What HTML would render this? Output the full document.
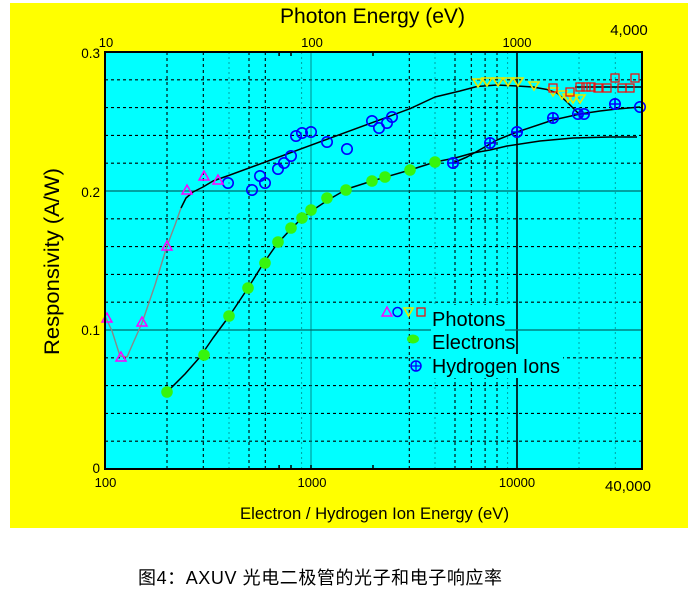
<!DOCTYPE html>
<html><head><meta charset="utf-8"><style>
html,body{margin:0;padding:0;background:#fff;}
svg{display:block;}
text{font-family:"Liberation Sans","Noto Sans CJK SC",sans-serif;fill:#000;}
</style></head><body>
<svg width="697" height="589" viewBox="0 0 697 589" xmlns="http://www.w3.org/2000/svg">
<rect x="0" y="0" width="697" height="589" fill="#fff"/>
<rect x="10" y="3" width="678" height="525" fill="#ffff00"/>
<rect x="105" y="52" width="537" height="417" fill="#00ffff"/>

<!-- grid -->
<g stroke="#000" stroke-width="1.1" stroke-dasharray="3,3" fill="none">
<path d="M105 79.8H642M105 107.6H642M105 135.4H642M105 163.2H642M105 218.8H642M105 246.6H642M105 274.4H642M105 302.2H642M105 357.8H642M105 385.6H642M105 413.4H642M105 441.2H642"/>
<path d="M167 52V469M203.3 52V469M249 52V469M265.3 52V469M409.3 52V469M455 52V469M471.3 52V469M485.1 52V469M497 52V469"/>
</g>
<g stroke="#00a0a0" stroke-width="1" stroke-dasharray="2,3" fill="none">
<path d="M229 52V469M301.6 52V469M435 52V469M507.6 52V469M579 52V469M615.3 52V469"/>
</g>
<!-- legend box hiding grid -->
<rect x="431" y="305" width="132" height="73" fill="#00ffff"/>
<g fill="none">
<path d="M311 52V469" stroke="#008c8c" stroke-width="1"/>
<path d="M517 52V354M517 378V469" stroke="#000" stroke-width="1.6"/>
<path d="M105 191H642" stroke="#006a6a" stroke-width="1.3"/>
<path d="M105 330H431M505 330H642" stroke="#006a6a" stroke-width="1.3"/>
</g>
<!-- ticks -->
<g stroke="#000" stroke-width="1.5">
<path d="M279.1 52V56M291 52V56M373 52V56M279.1 469V465M291 469V465M373 469V465M311 469V465"/>
</g>

<!-- curves -->
<g fill="none" stroke-linejoin="round">
<polyline stroke="#888" stroke-width="1.4" points="105,316 112,331 120,356 127,357 134,341 142,323 155,285 167,246 175,225 181,208"/>
<polyline stroke="#000" stroke-width="1.5" points="181,208 186,198 193,192 203,187 213,181 230,175 410,108.7 435,97 460,91 477,86.5 497,85 517,86 533,87 547,89.5 557,93 567,102 577,112 580,115"/>
<polyline stroke="#000" stroke-width="1.5" points="575,87 642,87"/>
<polyline stroke="#000" stroke-width="1.5" points="167,392 185,374 200,357 213,338 230,315 248,288 263,264 277,244 290,230 302,218 313,210 328,200 347,189 372,181 410,170 435,162 455,158 473,153 490,150 507,146 540,141 573,138 610,137 637,137"/>
<polyline stroke="#000" stroke-width="1.5" points="453,163 467,157 483,148 497,140 517,132 553,120 580,114 600,111 617,109 640,107"/>
</g>

<!-- electrons -->
<g fill="#36f50e">
<circle cx="167" cy="392" r="5.8"/><circle cx="204" cy="355" r="5.8"/><circle cx="229" cy="316" r="5.8"/>
<circle cx="248" cy="288" r="5.8"/><circle cx="265" cy="263" r="5.8"/><circle cx="278" cy="242" r="5.8"/>
<circle cx="291" cy="228" r="5.8"/><circle cx="302" cy="218" r="5.8"/><circle cx="311" cy="210" r="5.8"/>
<circle cx="327" cy="198" r="5.8"/><circle cx="346" cy="190" r="5.8"/><circle cx="372" cy="181" r="5.8"/>
<circle cx="385" cy="177" r="5.8"/><circle cx="410" cy="170" r="5.8"/><circle cx="435" cy="162" r="5.8"/>
</g>

<!-- photon circles -->
<g fill="none" stroke="#0000ff" stroke-width="1.6">
<circle cx="228" cy="183" r="5.2"/><circle cx="252" cy="190" r="5.2"/><circle cx="260" cy="176" r="5.2"/>
<circle cx="265" cy="183" r="5.2"/><circle cx="278" cy="169" r="5.2"/><circle cx="284" cy="163" r="5.2"/>
<circle cx="291" cy="156" r="5.2"/><circle cx="296" cy="136" r="5.2"/><circle cx="302" cy="133" r="5.2"/>
<circle cx="311" cy="132" r="5.2"/><circle cx="327" cy="142" r="5.2"/><circle cx="347" cy="149" r="5.2"/>
<circle cx="372" cy="121" r="5.2"/><circle cx="379" cy="128" r="5.2"/><circle cx="387" cy="123" r="5.2"/>
<circle cx="392" cy="117" r="5.2"/>
<!-- hydrogen -->
<circle cx="453" cy="163" r="5.2"/><path d="M448 163h10M453 158v10"/>
<circle cx="490" cy="143" r="5.2"/><path d="M485 143h10M490 138v10"/>
<circle cx="517" cy="132" r="5.2"/><path d="M512 132h10M517 127v10"/>
<circle cx="553" cy="118" r="5.2"/><path d="M548 118h10M553 113v10"/>
<circle cx="578" cy="114" r="5.2"/><circle cx="584" cy="114" r="5.2"/><path d="M574 114h15M581 109v10"/>
<circle cx="615" cy="104" r="5.2"/><path d="M610 104h10M615 99v10"/>
<circle cx="640" cy="107" r="5.2"/>
</g>

<!-- magenta triangles -->
<g fill="none" stroke="#ff00ff" stroke-width="1.5">
<path d="M107 313L102 322L112 322Z"/><path d="M121 352L116 361L126 361Z"/>
<path d="M142 317L137 326L147 326Z"/><path d="M167 241L162 250L172 250Z"/>
<path d="M187 185L182 194L192 194Z"/><path d="M204 171L199 180L209 180Z"/>
<path d="M218 175L213 184L223 184Z"/>
</g>

<!-- yellow inverted triangles -->
<g fill="none" stroke="#e8e800" stroke-width="1.6">
<path d="M473 79L483 79L478 87Z"/><path d="M482 78L492 78L487 86Z"/>
<path d="M493 78L503 78L498 86Z"/><path d="M503 78L513 78L508 86Z"/>
<path d="M513 78L523 78L518 86Z"/><path d="M529 82L539 82L534 90Z"/>
<path d="M548 88L558 88L553 96Z"/><path d="M557 91L567 91L562 99Z"/>
<path d="M563 94L573 94L568 102Z"/><path d="M568 95L578 95L573 103Z"/>
<path d="M575 95L585 95L580 103Z"/>
</g>

<!-- red squares -->
<g fill="none" stroke="#f01010" stroke-width="1.3">
<rect x="549" y="84" width="8" height="8"/><rect x="566" y="88" width="8" height="8"/>
<rect x="576" y="83" width="8" height="8"/><rect x="582" y="83" width="8" height="8"/>
<rect x="587" y="83" width="8" height="8"/><rect x="594" y="84" width="8" height="8"/>
<rect x="603" y="84" width="8" height="8"/><rect x="618" y="84" width="8" height="8"/>
<rect x="626" y="84" width="8" height="8"/>
<rect x="611" y="74" width="8" height="8"/><rect x="631" y="74" width="8" height="8"/>
</g>

<!-- legend -->
<path d="M387 307L382 316L392 316Z" fill="none" stroke="#ff00ff" stroke-width="1.4"/>
<circle cx="397.5" cy="312" r="4.5" fill="none" stroke="#0000ff" stroke-width="1.5"/>
<path d="M404 308L413 308L408.5 316Z" fill="none" stroke="#e8e800" stroke-width="1.6"/>
<rect x="417" y="308" width="8" height="8" fill="none" stroke="#f01010" stroke-width="1.3"/>
<ellipse cx="413" cy="339" rx="6" ry="4.5" fill="#36f50e"/>
<circle cx="416" cy="366" r="5" fill="none" stroke="#0000ff" stroke-width="1.5"/>
<path d="M411 366h10M416 361v10" stroke="#0000ff" stroke-width="1.3"/>
<text x="432" y="326" font-size="20">Photons</text>
<text x="432" y="349" font-size="20">Electrons</text>
<text x="432" y="373" font-size="20" textLength="128" lengthAdjust="spacingAndGlyphs">Hydrogen Ions</text>

<!-- border -->
<rect x="105" y="52" width="537" height="417" fill="none" stroke="#000" stroke-width="2"/>

<!-- axis text -->
<text x="280" y="23" font-size="21" textLength="185" lengthAdjust="spacingAndGlyphs">Photon Energy (eV)</text>
<g font-size="13" text-anchor="middle">
<text x="106" y="47">10</text>
<text x="312" y="47">100</text>
<text x="517" y="47">1000</text>
<text x="105.5" y="487">100</text>
<text x="312" y="487">1000</text>
<text x="517" y="487">10000</text>
</g>
<text x="629" y="35" font-size="15" text-anchor="middle">4,000</text>
<text x="628" y="491" font-size="15" text-anchor="middle">40,000</text>
<g font-size="13.5" text-anchor="end">
<text x="100" y="58">0.3</text>
<text x="100" y="197">0.2</text>
<text x="100" y="335">0.1</text>
<text x="100" y="473">0</text>
</g>
<text transform="translate(59,261.5) rotate(-90)" font-size="21" text-anchor="middle" textLength="187" lengthAdjust="spacingAndGlyphs">Responsivity (A/W)</text>
<text x="374.5" y="519" font-size="16.5" text-anchor="middle" textLength="269" lengthAdjust="spacingAndGlyphs">Electron / Hydrogen Ion Energy (eV)</text>

<!-- caption -->
<text x="138" y="584" font-size="18" textLength="364" lengthAdjust="spacing" style="font-family:'Liberation Sans','Noto Sans CJK SC',sans-serif">图4：AXUV 光电二极管的光子和电子响应率</text>
</svg>
</body></html>
